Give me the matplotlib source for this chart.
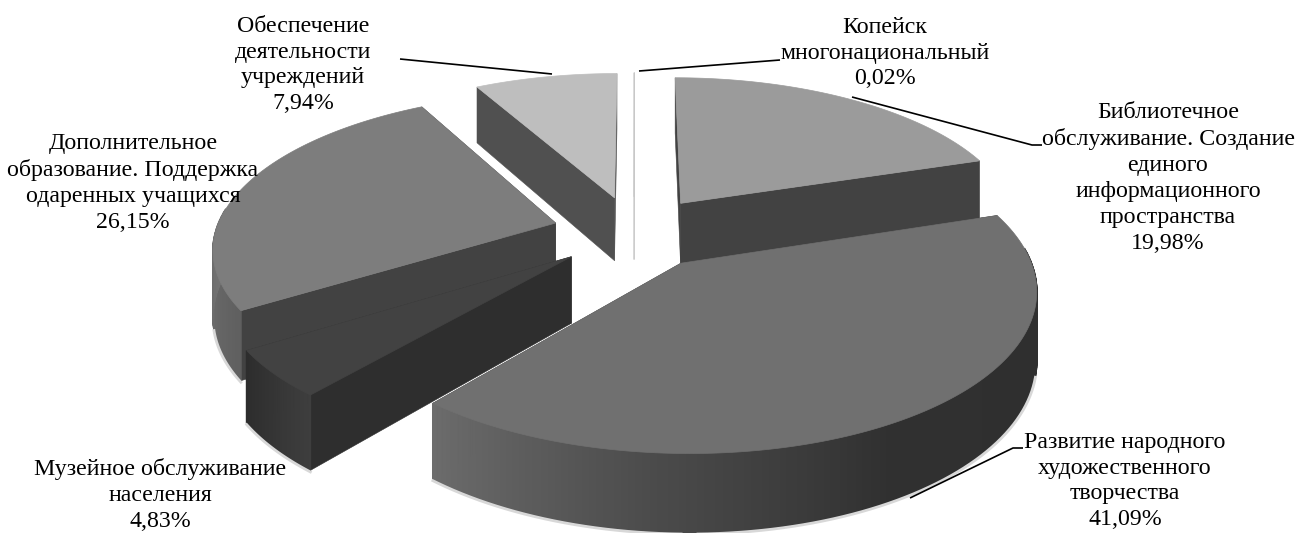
import numpy as np
import matplotlib
matplotlib.use('Agg')
import matplotlib.pyplot as plt
from matplotlib.patches import Polygon

plt.rcParams['font.family'] = ['Liberation Serif', 'DejaVu Serif']

# data, clockwise from the top of the pie
labels = ['Копейск\nмногонациональный\n0,02%',
          'Библиотечное\nобслуживание. Создание\nединого\nинформационного\nпространства\n19,98%',
          'Развитие народного\nхудожественного\nтворчества\n41,09%',
          'Музейное обслуживание\nнаселения\n4,83%',
          'Дополнительное\nобразование. Поддержка\nодаренных учащихся\n26,15%',
          'Обеспечение\nдеятельности\nучреждений\n7,94%']
values = [0.02, 19.98, 41.09, 4.83, 26.15, 7.94]

# grey levels per slice
top_grey = [200, 155, 112, 66, 125, 190]
side_grey = [200, 66, 50, 46, 66, 80]
# outer wall: (angle, grey) stops
wall_stops = [([0, 1], [200, 200]),
              ([0, 360], [66, 66]),
              ([72, 150, 185, 220], [46, 48, 75, 108]),
              ([220, 238], [62, 44]),
              ([237, 290], [95, 125]),
              ([331, 360], [120, 120])]

label_xy = [(885, 53), (1168, 178), (1125, 481), (160, 495), (133, 183), (303, 65)]
# leader lines, in picture pixels
leaders = [[(639, 71), (780, 60)],
           [(852, 97), (1032, 145), (1042, 145)],
           [(910, 498), (1013, 448), (1023, 448)],
           [(400, 59), (552, 74)]]

# pie geometry, in picture pixels
cx, cy = 634, 232
ax_r, ay_r = 340, 152
depth = 65
persp = 0.148
explode = 0.24
draw_order = [5, 0, 1, 4, 3, 2]


def project(x, y, z=0.0):
    k = 1 / (1 + persp * y)
    return cx + ax_r * k * x, cy - ay_r * k * y + depth * k * z


def grey(g):
    return (g / 255, g / 255, g / 255)


fig = plt.figure(figsize=(12.97, 5.33), dpi=100)
ax = fig.add_axes([0, 0, 1, 1])
ax.set_xlim(0, 1297)
ax.set_ylim(533, 0)
ax.axis('off')

fracs = np.array(values) / sum(values)
ends = np.cumsum(fracs) * 360
starts = ends - fracs * 360

for i in draw_order:
    a0, a1 = starts[i], ends[i]
    mid = np.radians((a0 + a1) / 2)
    ox, oy = explode * np.sin(mid), explode * np.cos(mid)
    th = np.linspace(a0, a1, max(3, int(a1 - a0) * 2))
    px = ox + np.sin(np.radians(th))
    py = oy + np.cos(np.radians(th))

    # flat sides
    for j in (0, -1):
        p1 = project(ox, oy)
        p2 = project(px[j], py[j])
        p3 = project(px[j], py[j], 1)
        p4 = project(ox, oy, 1)
        ax.add_patch(Polygon([p1, p2, p3, p4], fc=grey(side_grey[i]), ec=grey(side_grey[i]), lw=0.4))

    # outer wall as thin strips so that it can shade, front part only
    front = np.where(np.cos(np.radians(th)) < 0.1)[0]
    soft = np.where(np.cos(np.radians(th)) < -0.25)[0]
    if len(soft) > 1:
        low = [project(px[j], py[j], 1) for j in soft]
        xs, ys = zip(*low)
        ax.plot(np.array(xs), np.array(ys) + 1.5, color='#d8d8d8', lw=2, zorder=2)
    for j in front[:-1]:
        g = np.interp((th[j] + th[j + 1]) / 2, wall_stops[i][0], wall_stops[i][1])
        quad = [project(px[j], py[j]), project(px[j + 1], py[j + 1]),
                project(px[j + 1], py[j + 1], 1), project(px[j], py[j], 1)]
        ax.add_patch(Polygon(quad, fc=grey(g), ec=grey(g), lw=1.2))

    # top face
    top = [project(ox, oy)] + [project(a, b) for a, b in zip(px, py)]
    ax.add_patch(Polygon(top, fc=grey(top_grey[i]), ec=grey(top_grey[i]), lw=0.5))

for line in leaders:
    xs, ys = zip(*line)
    ax.plot(xs, ys, color='black', lw=1.2, zorder=10, solid_capstyle='butt')

for txt, (x, y) in zip(labels, label_xy):
    ax.text(x, y, txt, ha='center', va='center', fontsize=17.2, color='black',
            linespacing=1.3, zorder=11)

fig.savefig('out.png', dpi=100)
